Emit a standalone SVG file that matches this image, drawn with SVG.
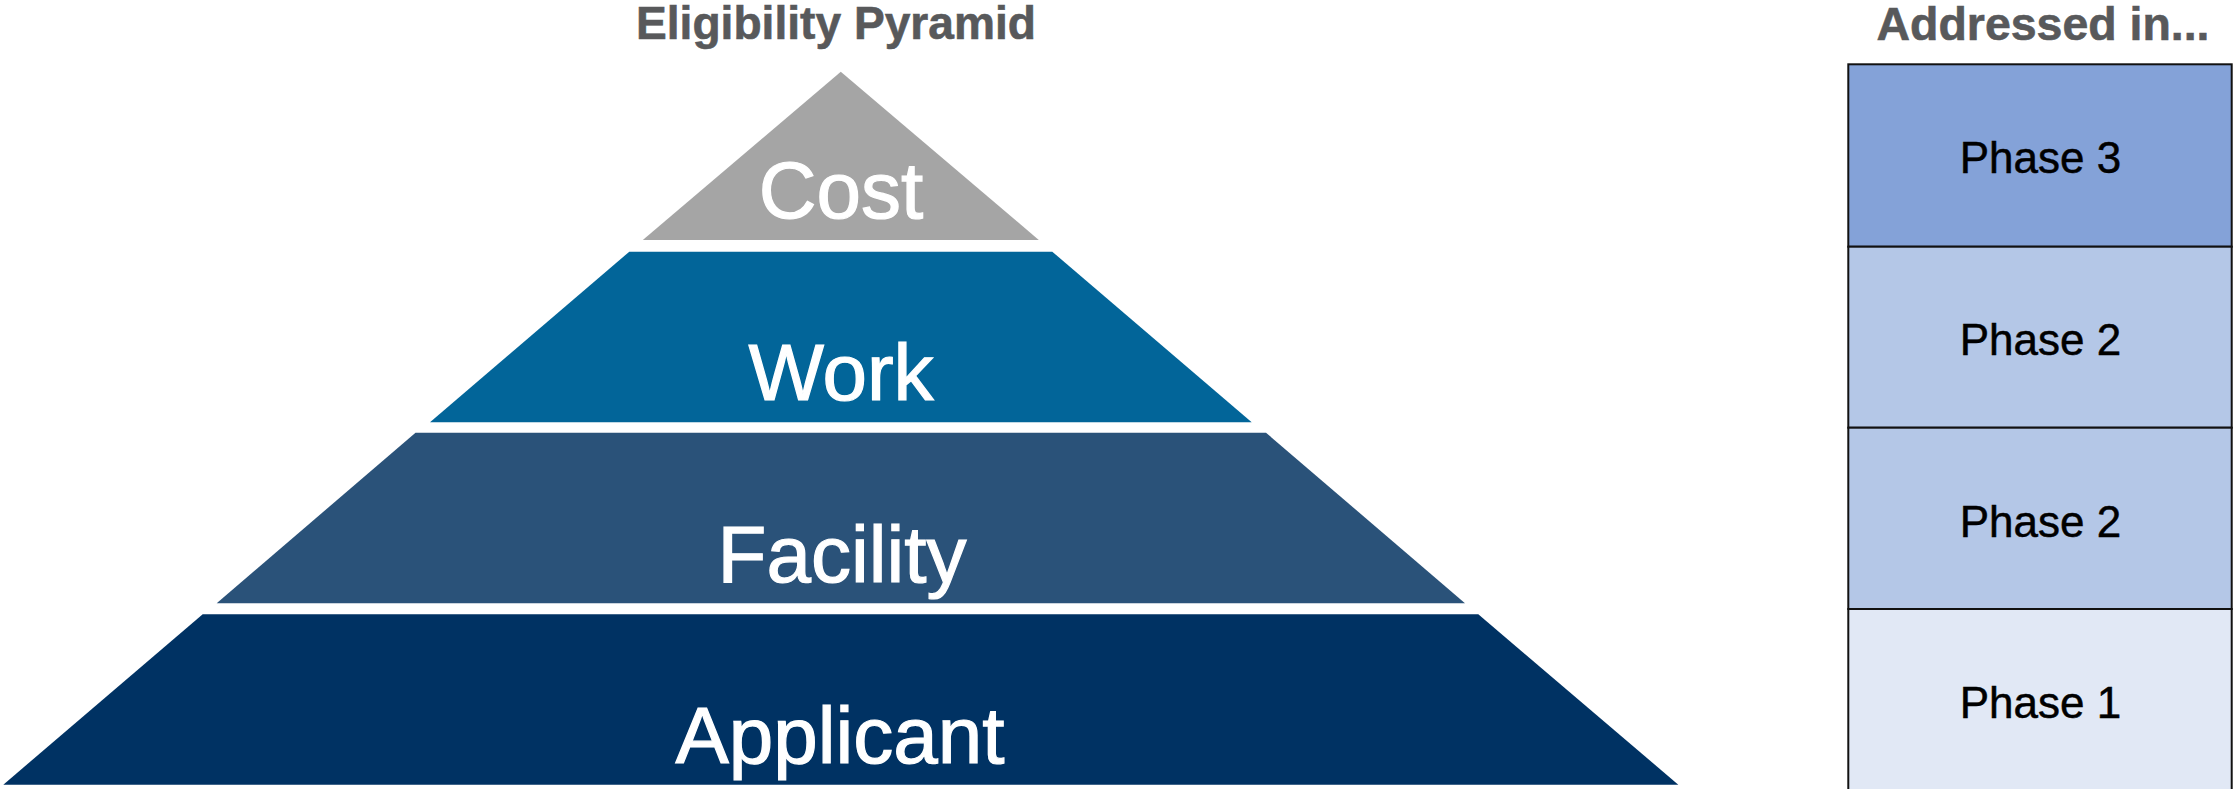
<svg xmlns="http://www.w3.org/2000/svg" width="2234" height="789" viewBox="0 0 2234 789">
  <style>
    .title { font-family: "Liberation Sans", Arial, sans-serif; font-weight: bold; font-size: 46px; fill: #58595B; stroke: #58595B; stroke-width: 0.6; text-anchor: middle; }
    .lvl { font-family: "Liberation Sans", Arial, sans-serif; font-size: 80px; fill: #FFFFFF; stroke: #FFFFFF; stroke-width: 1.2; text-anchor: middle; }
    .phase { font-family: "Liberation Sans", Arial, sans-serif; font-size: 44px; fill: #000000; stroke: #000000; stroke-width: 0.5; text-anchor: middle; }
    .box { stroke: #111111; stroke-width: 2; }
  </style>
  <rect x="0" y="0" width="2234" height="789" fill="#FFFFFF"/>

  <text class="title" x="836" y="38.5" textLength="400" lengthAdjust="spacingAndGlyphs">Eligibility Pyramid</text>
  <text class="title" x="2043" y="39.5" textLength="333" lengthAdjust="spacingAndGlyphs">Addressed in...</text>

  <g id="pyramid">
    <g id="cost">
      <polygon points="840.8,71.7 1038.8,240 642.8,240" fill="#A5A5A5"/>
      <text class="lvl" x="841" y="218">Cost</text>
    </g>
    <g id="work">
      <polygon points="629.3,251.7 1052.3,251.7 1251.7,422.3 430,422.3" fill="#026599"/>
      <text class="lvl" x="841" y="400">Work</text>
    </g>
    <g id="facility">
      <polygon points="415.5,432.7 1266,432.7 1465,603.3 216.7,603.3" fill="#2A5279"/>
      <text class="lvl" x="842" y="581.7">Facility</text>
    </g>
    <g id="applicant">
      <polygon points="202.7,614.3 1478.3,614.3 1678.3,784.7 3.3,784.7" fill="#003263"/>
      <text class="lvl" x="840" y="763.3" font-size="81">Applicant</text>
    </g>
  </g>

  <g id="phases">
    <g id="phase3">
      <rect class="box" x="1848.3" y="64.3" width="383.4" height="182.4" fill="#84A2D8"/>
      <text class="phase" x="2040.5" y="173.3">Phase 3</text>
    </g>
    <g id="phase2a">
      <rect class="box" x="1848.3" y="246.7" width="383.4" height="181" fill="#B4C7E7"/>
      <text class="phase" x="2040.5" y="355.3">Phase 2</text>
    </g>
    <g id="phase2b">
      <rect class="box" x="1848.3" y="427.7" width="383.4" height="181.3" fill="#B4C7E7"/>
      <text class="phase" x="2040.5" y="536.7">Phase 2</text>
    </g>
    <g id="phase1">
      <rect class="box" x="1848.3" y="609" width="383.4" height="184" fill="#E1E8F5"/>
      <text class="phase" x="2040.5" y="718.3">Phase 1</text>
    </g>
  </g>

  <g id="connectors"></g>
</svg>
